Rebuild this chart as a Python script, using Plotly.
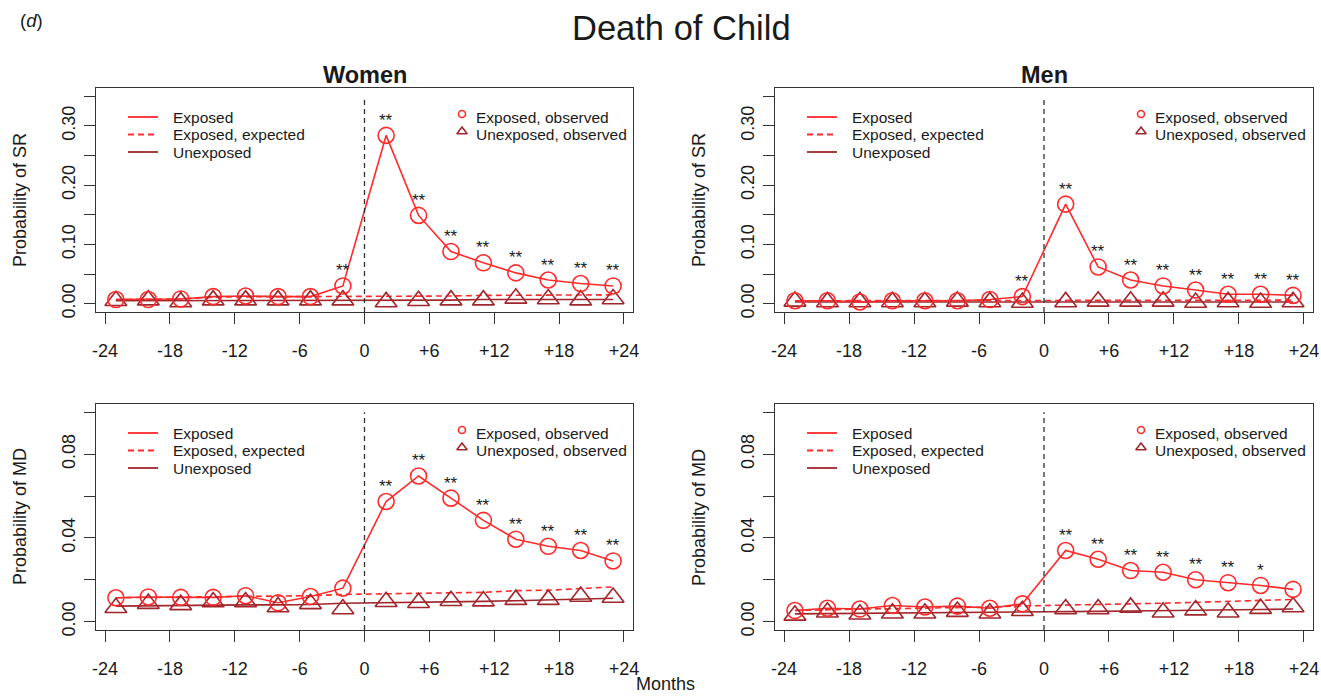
import plotly.graph_objects as go

# ---- data -------------------------------------------------------------
months = [-23, -20, -17, -14, -11, -8, -5, -2, 2, 5, 8, 11, 14, 17, 20, 23]
month_ticks = [-24, -18, -12, -6, 0, 6, 12, 18, 24]
month_tick_labels = ["-24", "-18", "-12", "-6", "0", "+6", "+12", "+18", "+24"]

sr_ticks = [0.00, 0.05, 0.10, 0.15, 0.20, 0.25, 0.30, 0.35]
sr_tick_labels = ["0.00", "", "0.10", "", "0.20", "", "0.30", ""]
md_ticks = [0.00, 0.02, 0.04, 0.06, 0.08, 0.10]
md_tick_labels = ["0.00", "", "0.04", "", "0.08", ""]

# Women, self-reported (SR)
women_sr_exposed = [0.007, 0.007, 0.008, 0.012, 0.013, 0.012, 0.012, 0.030,
                    0.284, 0.149, 0.088, 0.069, 0.052, 0.040, 0.034, 0.030]
women_sr_expected = [0.007, 0.007, 0.008, 0.011, 0.012, 0.012, 0.012, 0.012,
                     0.013, 0.013, 0.013, 0.014, 0.014, 0.015, 0.015, 0.015]
women_sr_unexp_fit = [0.005, 0.005, 0.005, 0.005, 0.006, 0.006, 0.006, 0.006,
                      0.006, 0.006, 0.006, 0.007, 0.007, 0.007, 0.007, 0.007]
women_sr_unexp_obs = [0.005, 0.006, 0.003, 0.006, 0.006, 0.006, 0.006, 0.006,
                      0.003, 0.005, 0.006, 0.006, 0.009, 0.008, 0.006, 0.008]
women_sr_stars = ["", "", "", "", "", "", "", "**",
                  "**", "**", "**", "**", "**", "**", "**", "**"]

# Men, self-reported (SR)
men_sr_exposed = [0.005, 0.005, 0.003, 0.005, 0.005, 0.005, 0.007, 0.012,
                  0.168, 0.062, 0.040, 0.030, 0.023, 0.016, 0.016, 0.014]
men_sr_expected = [0.005, 0.005, 0.005, 0.005, 0.005, 0.005, 0.005, 0.005,
                   0.005, 0.005, 0.005, 0.006, 0.006, 0.006, 0.006, 0.006]
men_sr_unexp_fit = [0.003, 0.003, 0.003, 0.003, 0.003, 0.003, 0.003, 0.003,
                    0.003, 0.003, 0.003, 0.003, 0.003, 0.003, 0.003, 0.003]
men_sr_unexp_obs = [0.004, 0.003, 0.003, 0.003, 0.003, 0.004, 0.003, 0.002,
                    0.003, 0.004, 0.004, 0.004, 0.002, 0.003, 0.002, 0.003]
men_sr_stars = ["", "", "", "", "", "", "", "**",
                "**", "**", "**", "**", "**", "**", "**", "**"]

# Women, medication dispensing (MD)
women_md_exposed = [0.0114, 0.0118, 0.0116, 0.0116, 0.0124, 0.0090, 0.0120, 0.0160,
                    0.0574, 0.0696, 0.0590, 0.0484, 0.0394, 0.0360, 0.0340, 0.0290]
women_md_expected = [0.0114, 0.0116, 0.0116, 0.0118, 0.0122, 0.0122, 0.0124, 0.0130,
                     0.0132, 0.0134, 0.0137, 0.0140, 0.0148, 0.0150, 0.0158, 0.0166]
women_md_unexp_fit = [0.0074, 0.0076, 0.0077, 0.0078, 0.0080, 0.0080, 0.0082, 0.0088,
                      0.0090, 0.0092, 0.0095, 0.0097, 0.0100, 0.0103, 0.0108, 0.0112]
women_md_unexp_obs = [0.0066, 0.0086, 0.0080, 0.0094, 0.0094, 0.0070, 0.0085, 0.0060,
                      0.0095, 0.0090, 0.0100, 0.0098, 0.0105, 0.0105, 0.0120, 0.0115]
women_md_stars = ["", "", "", "", "", "", "", "",
                  "**", "**", "**", "**", "**", "**", "**", "**"]

# Men, medication dispensing (MD)
men_md_exposed = [0.0053, 0.0064, 0.0060, 0.0077, 0.0070, 0.0074, 0.0064, 0.0085,
                  0.0340, 0.0298, 0.0244, 0.0236, 0.0200, 0.0186, 0.0173, 0.0154]
men_md_expected = [0.0053, 0.0058, 0.0060, 0.0062, 0.0064, 0.0068, 0.0070, 0.0075,
                   0.0078, 0.0080, 0.0085, 0.0088, 0.0092, 0.0096, 0.0100, 0.0106]
men_md_unexp_fit = [0.0037, 0.0038, 0.0039, 0.0040, 0.0041, 0.0043, 0.0044, 0.0046,
                    0.0047, 0.0049, 0.0051, 0.0052, 0.0054, 0.0056, 0.0058, 0.0060]
men_md_unexp_obs = [0.0030, 0.0045, 0.0035, 0.0040, 0.0040, 0.0048, 0.0040, 0.0052,
                    0.0060, 0.0060, 0.0068, 0.0045, 0.0055, 0.0045, 0.0062, 0.0070]
men_md_stars = ["", "", "", "", "", "", "", "",
                "**", "**", "**", "**", "**", "**", "*", ""]

# ---- styling ----------------------------------------------------------
W, H = 1321, 696
FONT = "Liberation Sans, Arial, Helvetica, sans-serif"
RED = "#ff2a2a"
DARK = "#a0262c"
AXIS = "#333333"
TEXT = "#1a1a1a"

X_RANGE = [-24.84, 24.84]
SR_RANGE = [-0.014, 0.364]
MD_RANGE = [-0.004, 0.104]

# panel boxes in pixels: (left, top, right, bottom)
boxes = {
    "women_sr": (96, 88, 633, 312),
    "men_sr": (775, 88, 1313, 312),
    "women_md": (96, 404, 633, 630),
    "men_md": (775, 404, 1313, 630),
}

panels = [
    ("women_sr", "", women_sr_exposed, women_sr_expected, women_sr_unexp_fit,
     women_sr_unexp_obs, women_sr_stars, "SR"),
    ("men_sr", "2", men_sr_exposed, men_sr_expected, men_sr_unexp_fit,
     men_sr_unexp_obs, men_sr_stars, "SR"),
    ("women_md", "3", women_md_exposed, women_md_expected, women_md_unexp_fit,
     women_md_unexp_obs, women_md_stars, "MD"),
    ("men_md", "4", men_md_exposed, men_md_expected, men_md_unexp_fit,
     men_md_unexp_obs, men_md_stars, "MD"),
]


def px(x):
    return x / W


def py(y):
    return 1 - y / H


def label(x, y, text, size, **kw):
    """Text placed by its centre at a pixel position on the page."""
    d = dict(x=px(x), y=py(y), xref="paper", yref="paper", text=text,
             showarrow=False, xanchor="center", yanchor="middle",
             font=dict(family=FONT, size=size, color=TEXT))
    d.update(kw)
    return d


fig = go.Figure()
shapes = []
annotations = []
layout_axes = {}

for key, sfx, exposed, expected, unexp_fit, unexp_obs, stars, outcome in panels:
    left, top, right, bottom = boxes[key]
    xa, ya = "x" + sfx, "y" + sfx
    yr = SR_RANGE if outcome == "SR" else MD_RANGE
    yt = sr_ticks if outcome == "SR" else md_ticks
    ytl = sr_tick_labels if outcome == "SR" else md_tick_labels

    common = dict(showline=True, mirror=True, linecolor=AXIS, linewidth=1,
                  ticks="outside", ticklen=11, tickwidth=1, tickcolor=AXIS,
                  showgrid=False, zeroline=False, fixedrange=True, automargin=False,
                  tickfont=dict(family=FONT, size=18, color=TEXT))
    layout_axes["xaxis" + sfx] = dict(
        common, domain=[px(left), px(right)], range=X_RANGE, anchor=ya,
        tickvals=month_ticks, ticktext=month_tick_labels, ticklabelstandoff=11)
    layout_axes["yaxis" + sfx] = dict(
        common, domain=[py(bottom), py(top)], range=yr, anchor=xa,
        tickvals=yt, ticktext=ytl, tickangle=-90, ticklabelstandoff=2)

    # reference line at the event
    shapes.append(dict(type="line", xref=xa, yref=ya, x0=0, x1=0,
                       y0=yr[0], y1=yt[-1],
                       line=dict(color=AXIS, width=1.3, dash="5px,4px")))

    fig.add_trace(go.Scatter(x=months, y=expected, xaxis=xa, yaxis=ya, mode="lines",
                             line=dict(color=RED, width=1.6, dash="6px,4px"),
                             showlegend=False, hoverinfo="skip"))
    fig.add_trace(go.Scatter(x=months, y=unexp_fit, xaxis=xa, yaxis=ya, mode="lines",
                             line=dict(color=DARK, width=1.6),
                             showlegend=False, hoverinfo="skip"))
    fig.add_trace(go.Scatter(x=months, y=exposed, xaxis=xa, yaxis=ya, mode="lines",
                             line=dict(color=RED, width=1.6),
                             showlegend=False, hoverinfo="skip"))
    fig.add_trace(go.Scatter(x=months, y=unexp_obs, xaxis=xa, yaxis=ya, mode="markers",
                             marker=dict(symbol="triangle-up-open", size=19, color=DARK,
                                         line=dict(width=1.6, color=DARK)),
                             showlegend=False, hoverinfo="skip"))
    fig.add_trace(go.Scatter(x=months, y=exposed, xaxis=xa, yaxis=ya, mode="markers",
                             marker=dict(symbol="circle-open", size=16, color=RED,
                                         line=dict(width=1.6, color=RED)),
                             showlegend=False, hoverinfo="skip"))

    # significance markers above the exposed observations
    for m, v, s in zip(months, exposed, stars):
        if s:
            annotations.append(dict(x=m, y=v, xref=xa, yref=ya, text=s,
                                    showarrow=False, xanchor="center", yanchor="middle",
                                    yshift=15,
                                    font=dict(family=FONT, size=17, color=TEXT)))

    # in-panel legend: line keys on the left
    key_rows = [("Exposed", RED, "solid"),
                ("Exposed, expected", RED, "dash"),
                ("Unexposed", DARK, "solid")]
    for i, (name, col, dash) in enumerate(key_rows):
        yy = top + 29 + 17.5 * i
        shapes.append(dict(type="line", xref="paper", yref="paper",
                           x0=px(left + 32), x1=px(left + 62), y0=py(yy), y1=py(yy),
                           line=dict(color=col, width=1.8,
                                     dash="6px,4px" if dash == "dash" else "solid")))
        annotations.append(label(left + 75, yy, name, 15.5, xanchor="left"))
    # in-panel legend: symbol keys on the right
    sym_rows = [("Exposed, observed", RED, "circle-open", 7),
                ("Unexposed, observed", DARK, "triangle-up-open", 9)]
    for i, (name, col, sym, sz) in enumerate(sym_rows):
        yy = top + 29 + 17.5 * i
        fig.add_trace(go.Scatter(x=[px(left + 366)], y=[py(yy - 3)], xaxis="x9", yaxis="y9",
                                 mode="markers",
                                 marker=dict(symbol=sym, size=sz, color=col,
                                             line=dict(width=1.6, color=col)),
                                 showlegend=False, hoverinfo="skip"))
        annotations.append(label(left + 378, yy, name, 15.5, xanchor="left"))

    # y-axis title
    annotations.append(label(left - 76, (top + bottom) / 2, "Probability of " + outcome,
                             18, textangle=-90))

# overlay axis spanning the page, used for the legend symbols
layout_axes["xaxis9"] = dict(domain=[0, 1], range=[0, 1], visible=False, fixedrange=True,
                             anchor="y9")
layout_axes["yaxis9"] = dict(domain=[0, 1], range=[0, 1], visible=False, fixedrange=True,
                             anchor="x9")

# titles
annotations += [
    label(681, 28, "Death of Child", 34.5),
    label(365, 75, "<b>Women</b>", 23.5),
    label(1044, 75, "<b>Men</b>", 23.5),
    label(31, 20, "(<i>d</i>)", 18.5),
    label(665, 684, "Months", 18),
]

fig.update_layout(
    width=W, height=H, margin=dict(l=0, r=0, t=0, b=0),
    paper_bgcolor="white", plot_bgcolor="rgba(0,0,0,0)",
    showlegend=False, shapes=shapes, annotations=annotations,
    **layout_axes,
)

fig.write_html("out.html", include_plotlyjs=True, config={"displayModeBar": False})
